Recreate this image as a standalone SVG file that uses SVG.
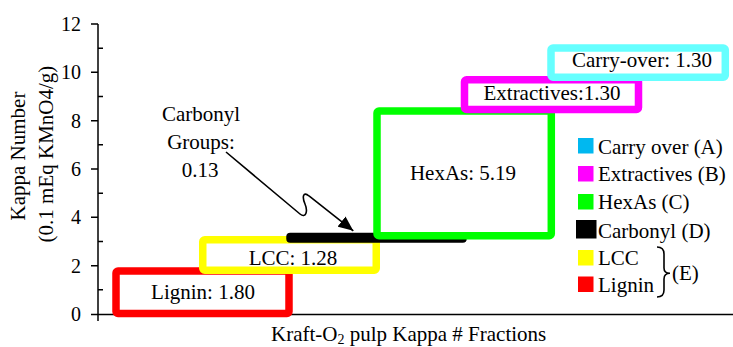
<svg xmlns="http://www.w3.org/2000/svg" width="733" height="347" viewBox="0 0 733 347">
<style>
text{font-family:"Liberation Serif","Times New Roman",serif;font-size:21px;fill:#000}
.tick{font-size:20px;text-anchor:end}
.mid{text-anchor:middle}
.box{fill:#fff;stroke-width:7.5;stroke-linejoin:round}
.ax{stroke:#000;stroke-width:1.5;fill:none}
.conn{stroke:#000;stroke-width:1.6;fill:none}
</style>
<defs>
<marker id="ah" markerUnits="userSpaceOnUse" markerWidth="15" markerHeight="13" refX="15" refY="6.5" orient="auto">
<path d="M0,0 L15,6.5 L0,13 z" fill="#000"/>
</marker>
</defs>
<rect width="733" height="347" fill="#fff"/>

<g id="axes">
<path class="ax" d="M98,24 V321"/>
<path class="ax" stroke-width="2" d="M91,314.5 H733"/>
<path class="ax" d="M91,24 H98 M91,72.3 H98 M91,120.7 H98 M91,169 H98 M91,217.3 H98 M91,265.7 H98"/>
<path class="ax" d="M98,48.2 H103 M98,96.5 H103 M98,144.8 H103 M98,193.2 H103 M98,241.5 H103 M98,289.8 H103"/>
<text class="tick" x="81" y="31">12</text>
<text class="tick" x="81" y="79.3">10</text>
<text class="tick" x="81" y="127.7">8</text>
<text class="tick" x="81" y="176">6</text>
<text class="tick" x="81" y="224.3">4</text>
<text class="tick" x="81" y="272.7">2</text>
<text class="tick" x="81" y="321">0</text>
<text class="mid" transform="translate(25,156) rotate(-90)">Kappa Number</text>
<text class="mid" transform="translate(53,154) rotate(-90)">(0.1 mEq KMnO4/g)</text>
<text x="271" y="340.5">Kraft-O<tspan dy="3.5" font-size="14">2</tspan><tspan dy="-3.5"> pulp Kappa # Fractions</tspan></text>
</g>

<g id="lignin">
<rect class="box" x="116" y="271" width="173" height="42.5" rx="2" stroke="#ff0000"/>
<text class="mid" x="203" y="299">Lignin: 1.80</text>
</g>
<g id="lcc">
<rect class="box" x="202.75" y="239.75" width="173.5" height="30.5" rx="2" stroke="#ffff00"/>
<text class="mid" x="293" y="264.5">LCC: 1.28</text>
</g>
<g id="carbonyl">
<rect x="286.25" y="232.75" width="180.5" height="10" rx="4" fill="#000"/>
</g>
<g id="hexas">
<rect class="box" x="377" y="111" width="174.3" height="124.7" rx="2" stroke="#00ff00"/>
<text class="mid" x="463" y="180">HexAs: 5.19</text>
</g>
<g id="extractives">
<rect class="box" x="464.5" y="79.75" width="174" height="29.8" rx="2" stroke="#ff00ff"/>
<text class="mid" x="552" y="99.5">Extractives:1.30</text>
</g>
<g id="carryover">
<rect class="box" x="551" y="48" width="174.3" height="29.2" rx="2" stroke="#66ffff"/>
<text class="mid" x="642" y="67">Carry-over: 1.30</text>
</g>

<g id="carbonyl-label">
<text class="mid" x="201" y="120.5">Carbonyl</text>
<text class="mid" x="201" y="148.5">Groups:</text>
<text class="mid" x="200" y="176.5">0.13</text>
</g>

<g id="connectors">
<path class="conn" d="M226,152 L300,214 C306,219 308,211 305,204 C302,197 303,191 309,196 L353.3,230.8" marker-end="url(#ah)"/>
</g>

<g id="legend">
<g id="leg-a"><rect x="578" y="138" width="15.5" height="15.5" fill="#00b8f0"/><text x="598" y="153.5">Carry over (A)</text></g>
<g id="leg-b"><rect x="578" y="166" width="15.5" height="15.5" fill="#ff00ff"/><text x="598" y="181">Extractives (B)</text></g>
<g id="leg-c"><rect x="578" y="194" width="15.5" height="15.5" fill="#00ff00"/><text x="598" y="209">HexAs (C)</text></g>
<g id="leg-d"><rect x="576" y="220" width="20.5" height="18.5" fill="#000"/><text x="598" y="238">Carbonyl (D)</text></g>
<g id="leg-lcc"><rect x="578" y="250" width="15.5" height="15.5" fill="#ffff00"/><text x="598" y="265">LCC</text></g>
<g id="leg-lig"><rect x="578" y="276.5" width="15.5" height="15.5" fill="#ff0000"/><text x="598" y="291.5">Lignin</text></g>
<path class="conn" stroke-width="1.2" d="M657,247 Q664,247 664,254 L664,268 Q664,273.3 670,273.3 Q664,273.3 664,279 L664,290 Q664,297 657,297"/>
<text x="672" y="280">(E)</text>
</g>
</svg>
